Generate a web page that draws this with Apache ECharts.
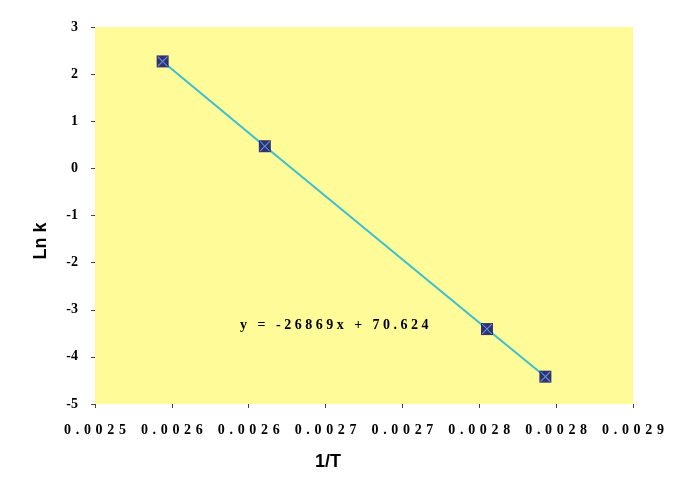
<!DOCTYPE html>
<html><head><meta charset="utf-8">
<script src="https://cdn.jsdelivr.net/npm/echarts@6/dist/echarts.min.js"></script>
<style>html,body{margin:0;padding:0;background:#fff}#c{width:680px;height:483px}</style>
</head><body><div id="c"></div>
<script>
const invT = [0.002544, 0.0026105, 0.002755, 0.002793];
const lnK = [2.27, 0.47, -3.41, -4.42];
const xTickLabels = ['0.0025','0.0026','0.0026','0.0027','0.0027','0.0028','0.0028','0.0029'];
const yTickLabels = ['-5','-4','-3','-2','-1','0','1','2','3'];
const equationText = 'y = -26869x + 70.624';
const xTitle = '1/T';
const yTitle = 'Ln k';

const pts = invT.map((x, i) => [x, lnK[i]]);
const spaced = (s, sp) => s.split('').join(sp);
const serif = '"Liberation Serif", "Times New Roman", serif';
const xPath = 'path://M0,0L0.8,0L5,4.2L9.2,0L10,0L10,0.8L5.8,5L10,9.2L10,10L9.2,10L5,5.8L0.8,10L0,10L0,9.2L4.2,5L0,0.8Z';

const chart = echarts.init(document.getElementById('c'));
chart.setOption({
  animation: false,
  backgroundColor: '#ffffff',
  grid: { left: 95, right: 47, top: 27, bottom: 79, show: true, backgroundColor: '#fffb99', borderWidth: 0 },
  xAxis: {
    type: 'value', min: 0.0025, max: 0.00285, interval: 0.00005,
    axisLine: { show: false, onZero: false },
    axisTick: { show: true, length: 4, lineStyle: { color: '#444' } },
    splitLine: { show: false },
    axisLabel: { margin: 19, color: '#000', fontFamily: serif, fontWeight: 'bold', fontSize: 14,
      formatter: (v, i) => spaced(xTickLabels[i] ?? '', '\u2004') }
  },
  yAxis: {
    type: 'value', min: -5, max: 3, interval: 1,
    axisLine: { show: false, onZero: false },
    axisTick: { show: true, length: 4, lineStyle: { color: '#444' } },
    splitLine: { show: false },
    axisLabel: { margin: 17, color: '#000', fontFamily: serif, fontWeight: 'bold', fontSize: 14,
      formatter: (v, i) => yTickLabels[i] ?? '' }
  },
  series: [
    { type: 'line', data: pts, showSymbol: false, lineStyle: { color: '#3cbfd0', width: 2 }, z: 2 },
    { type: 'scatter', data: pts, symbol: 'rect', symbolSize: 12, itemStyle: { color: '#00005e' }, z: 3 },
    { type: 'scatter', data: pts, symbol: xPath, symbolSize: 10, itemStyle: { color: '#6fa8ff' }, z: 4 }
  ],
  graphic: [
    { type: 'text', left: 240, top: 318, style: { text: spaced(equationText, '\u2005'), font: 'bold 14px ' + serif, fill: '#000' } },
    { type: 'text', x: 328, y: 462, style: { text: xTitle, font: 'bold 18px "Liberation Sans", Arial, sans-serif', fill: '#000', align: 'center', verticalAlign: 'middle' } },
    { type: 'text', x: 41, y: 241, rotation: Math.PI / 2, style: { text: yTitle, font: 'bold 18px "Liberation Sans", Arial, sans-serif', fill: '#000', align: 'center', verticalAlign: 'middle' } }
  ]
});
</script></body></html>
